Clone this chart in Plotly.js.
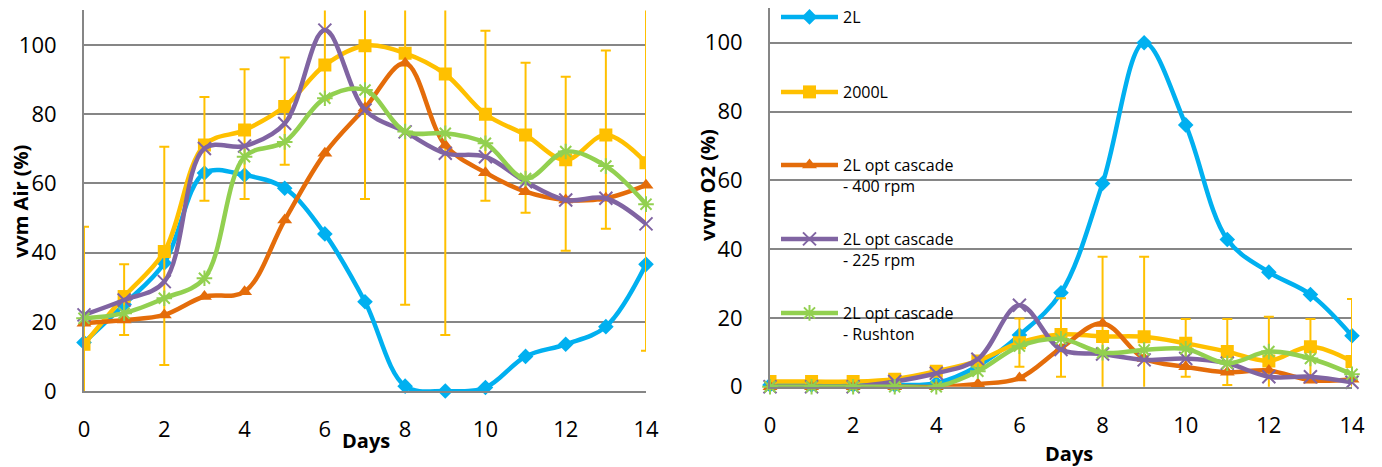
<!DOCTYPE html>
<html>
<head>
<meta charset="utf-8">
<script src="https://cdn.plot.ly/plotly-3.0.1.min.js"></script>
<style>html,body{margin:0;padding:0;background:#fff;}#chart{width:1382px;height:467px;}</style>
</head>
<body>
<div id="chart"></div>
<script>
// ---- data ----
const days = [0,1,2,3,4,5,6,7,8,9,10,11,12,13,14];
const seriesNames = ['2L', '2000L', '2L opt cascade<br>- 400 rpm', '2L opt cascade<br>- 225 rpm', '2L opt cascade<br>- Rushton'];

// vvm Air (%)
const air2L      = [14, 25, 37, 63, 62.4, 58.6, 45.4, 25.8, 1.4, 0, 1, 10, 13.5, 18.6, 36.6];
const air2000L   = [13.5, 27.3, 40.3, 71.1, 75.4, 82.2, 94.2, 99.8, 97.6, 91.6, 80, 74, 66.8, 74, 66];
const air2000LUp = [34, 9.3, 30.3, 13.9, 17.6, 14.2, 25, 44.3, 72.7, 75.4, 24.1, 20.9, 24, 24.4, 54.4];
const air2000LDn = [34, 11.1, 32.8, 16.1, 19.9, 16.8, 10, 44.3, 72.7, 75.4, 25, 22.5, 26.3, 27.1, 54.4];
const air400     = [19.6, 20.5, 22, 27.3, 28.7, 49.4, 68.7, 81.8, 94.7, 71, 63.1, 57.6, 55.2, 55.7, 59.5];
const air225     = [22, 26.3, 31.6, 70.1, 70.8, 77.3, 104.3, 81.2, 74.9, 68.7, 67.7, 60.5, 55.2, 55.7, 48.3];
const airRushton = [21, 22.5, 26.8, 32.6, 67.7, 72, 84.6, 87, 75, 74.5, 71.6, 61.4, 69.2, 65, 54];

// vvm O2 (%)
const o22L       = [0.5, 0.5, 0.5, 0.5, 1, 6, 15, 27.3, 59.1, 100, 76.1, 42.8, 33.3, 26.8, 14.8];
const o22000L    = [1.5, 1.5, 1.5, 2.2, 4.5, 7.5, 12.8, 15.2, 14.6, 14.5, 12.6, 10.2, 7.5, 11.6, 7.3];
const o22000LUp  = [0, 0, 0, 0, 0, 0, 7, 10.5, 23.2, 23.3, 7.1, 9.5, 12.8, 8.1, 18.2];
const o22000LDn  = [0, 0, 0, 0, 0, 0, 7, 12.3, 23.2, 23.3, 9.7, 9.7, 12.8, 9.6, 18.2];
const o2400      = [0, 0, 0, 0, 0, 0.8, 2.5, 11.2, 18.4, 8.2, 5.8, 4.2, 4.7, 1.9, 2.2];
const o2225      = [0, 0, 0, 1.5, 3.9, 8, 23.7, 10.8, 9.5, 7.8, 8.2, 6.8, 2.9, 2.9, 1.3];
const o2Rushton  = [0, 0, 0, 0, 0, 4.5, 11.8, 13.9, 9.9, 10.7, 11, 6.8, 10.2, 8.2, 3.6];

const xTickVals = [0, 2, 4, 6, 8, 10, 12, 14];
const yTickVals = [0, 20, 40, 60, 80, 100];

// ---- styles ----
const colors = ['#00B0F0', '#FFC000', '#E46C0A', '#8064A2', '#92D050'];
const markers = [
  {symbol: 'diamond', size: 12},
  {symbol: 'square', size: 13},
  {symbol: 'triangle-up', size: 13},
  {symbol: 'x-thin-open', size: 13, line: {width: 2}},
  {symbol: 'asterisk-open', size: 13, line: {width: 2}}
];
const legendIds = ['legend', 'legend2', 'legend3', 'legend4', 'legend5'];

function mk(i, y, xa, ya, show, err) {
  const m = Object.assign({color: colors[i]}, markers[i]);
  const t = {
    type: 'scatter', mode: 'lines+markers', x: days, y: y, xaxis: xa, yaxis: ya,
    name: seriesNames[i], legend: legendIds[i], showlegend: show,
    line: {color: colors[i], width: 4.5, shape: 'spline', smoothing: 1},
    marker: m, cliponaxis: !!err, hoverinfo: 'x+y+name'
  };
  if (err) {
    t.error_y = {type: 'data', symmetric: false, array: err[0], arrayminus: err[1],
                 color: '#FFC000', thickness: 2, width: 5};
  }
  return t;
}

const data = [
  mk(0, air2L, 'x', 'y', false),
  mk(1, air2000L, 'x', 'y', false, [air2000LUp, air2000LDn]),
  mk(2, air400, 'x', 'y', false),
  mk(3, air225, 'x', 'y', false),
  mk(4, airRushton, 'x', 'y', false),
  mk(0, o22L, 'x2', 'y2', true),
  mk(1, o22000L, 'x2', 'y2', true, [o22000LUp, o22000LDn]),
  mk(2, o2400, 'x2', 'y2', true),
  mk(3, o2225, 'x2', 'y2', true),
  mk(4, o2Rushton, 'x2', 'y2', true)
];

const W = 1382, H = 467;
const grid = '#868686';
function xax(d0, d1, anchor) {
  return {domain: [d0 / W, d1 / W], range: [0, 14], tickvals: xTickVals, anchor: anchor,
          showgrid: false, zeroline: false, showline: true, linecolor: grid, linewidth: 2,
          ticks: '', ticklabelstandoff: 18, tickfont: {size: 22, color: '#000'}, fixedrange: true};
}
function yax(top, bottom, anchor) {
  return {domain: [(H - bottom) / H, (H - top) / H], range: [0, 110], tickvals: yTickVals, anchor: anchor,
          showgrid: true, gridcolor: grid, gridwidth: 2, zeroline: false, showline: true,
          linecolor: grid, linewidth: 2, ticks: '', ticklabelstandoff: 21,
          tickfont: {size: 22, color: '#000'}, fixedrange: true};
}

const legendCenters = [17, 92, 165, 239, 313];
const legendBase = {x: 776 / W, xanchor: 'left', yanchor: 'top', bgcolor: 'rgba(0,0,0,0)',
                    font: {size: 16, color: '#000', family: 'Open Sans'}, valign: 'top', itemwidth: 57,
                    borderwidth: 0};

const layout = {
  width: W, height: H, margin: {l: 0, r: 0, t: 0, b: 0},
  paper_bgcolor: '#fff', plot_bgcolor: '#fff',
  font: {family: 'Open Sans', size: 22, color: '#000'},
  showlegend: true,
  xaxis: xax(84, 646, 'y'),
  yaxis: yax(10.4, 391, 'x'),
  xaxis2: xax(770, 1352, 'y2'),
  yaxis2: yax(8.3, 386.7, 'x2'),
  annotations: [
    {text: 'Days', xref: 'paper', yref: 'paper', x: 366 / W, y: (H - 440) / H, xanchor: 'center', yanchor: 'middle',
     showarrow: false, font: {size: 20, weight: 'bold', color: '#000'}},
    {text: 'Days', xref: 'paper', yref: 'paper', x: 1069 / W, y: (H - 453) / H, xanchor: 'center', yanchor: 'middle',
     showarrow: false, font: {size: 20, weight: 'bold', color: '#000'}},
    {text: 'vvm Air (%)', xref: 'paper', yref: 'paper', x: 20 / W, y: (H - 202) / H, xanchor: 'center', yanchor: 'middle',
     textangle: -90, showarrow: false, font: {size: 20, weight: 'bold', color: '#000'}},
    {text: 'vvm O2 (%)', xref: 'paper', yref: 'paper', x: 707 / W, y: (H - 185) / H, xanchor: 'center', yanchor: 'middle',
     textangle: -90, showarrow: false, font: {size: 20, weight: 'bold', color: '#000'}}
  ]
};
legendIds.forEach((id, i) => {
  layout[id] = Object.assign({}, legendBase, {y: Math.min(1, (H - (legendCenters[i] - 17)) / H)});
});

Plotly.newPlot('chart', data, layout, {displayModeBar: false, responsive: false});
</script>
</body>
</html>
